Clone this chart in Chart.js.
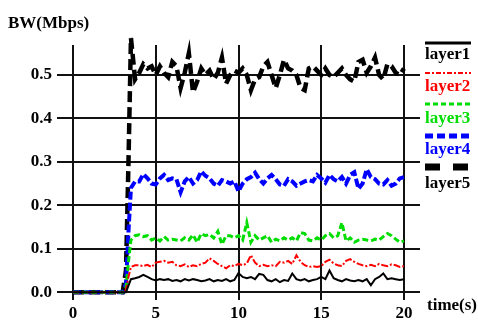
<!DOCTYPE html>
<html>
<head>
<meta charset="utf-8">
<script src="https://cdn.jsdelivr.net/npm/chart.js@4.4.1/dist/chart.umd.min.js"></script>
<style>
html, body { margin: 0; padding: 0; background: #fff; }
#wrap { width: 478px; height: 320px; }
</style>
</head>
<body>
<div id="wrap"><canvas id="bwChart" width="478" height="320"></canvas></div>
<script>
// data
const seriesNames = ['layer1', 'layer2', 'layer3', 'layer4', 'layer5'];
const xTicks = [0, 5, 10, 15, 20];
const yTicks = [0, 0.1, 0.2, 0.3, 0.4, 0.5];

const times = [0, 1, 2, 3, 3.2, 3.35, 3.5, 3.75,
    4.0, 4.25, 4.5, 4.75, 5.0, 5.25, 5.5, 5.75, 6.0, 6.25, 6.5, 6.75,
    7.0, 7.25, 7.5, 7.75, 8.0, 8.25, 8.5, 8.75, 9.0, 9.25, 9.5, 9.75,
    10.0, 10.25, 10.5, 10.75, 11.0, 11.25, 11.5, 11.75, 12.0, 12.25, 12.5, 12.75,
    13.0, 13.25, 13.5, 13.75, 14.0, 14.25, 14.5, 14.75, 15.0, 15.25, 15.5, 15.75,
    16.0, 16.25, 16.5, 16.75, 17.0, 17.25, 17.5, 17.75, 18.0, 18.25, 18.5, 18.75,
    19.0, 19.25, 19.5, 19.75, 20.0];

const layer1 = [0, 0, 0, 0, 0.0, 0.015, 0.03, 0.032,
    0.035, 0.04, 0.035, 0.03, 0.027, 0.03, 0.028, 0.03, 0.026, 0.028, 0.025, 0.03,
    0.027, 0.03, 0.028, 0.025, 0.027, 0.03, 0.025, 0.028, 0.026, 0.03, 0.025, 0.028,
    0.044, 0.035, 0.032, 0.035, 0.03, 0.042, 0.04, 0.028, 0.025, 0.03, 0.023, 0.028,
    0.026, 0.043, 0.03, 0.027, 0.03, 0.025, 0.028, 0.03, 0.035, 0.03, 0.05, 0.032,
    0.028, 0.025, 0.03, 0.027, 0.025, 0.028, 0.025, 0.03, 0.016, 0.03, 0.035, 0.043,
    0.03, 0.032, 0.03, 0.028, 0.03];
const layer2 = [0, 0, 0, 0, 0.005, 0.035, 0.058, 0.062,
    0.062, 0.06, 0.063, 0.058, 0.068, 0.07, 0.072, 0.068, 0.07, 0.062, 0.06, 0.064,
    0.058, 0.062, 0.06, 0.065, 0.068, 0.078, 0.072, 0.065, 0.06, 0.055, 0.062, 0.06,
    0.065, 0.062, 0.066, 0.085, 0.068, 0.06, 0.063, 0.06, 0.062, 0.06, 0.07, 0.068,
    0.072, 0.065, 0.085, 0.07, 0.062, 0.058, 0.06, 0.058, 0.06, 0.07, 0.075, 0.066,
    0.062, 0.06, 0.072, 0.076, 0.07, 0.065, 0.062, 0.06, 0.063, 0.06, 0.065, 0.062,
    0.06, 0.064, 0.062, 0.058, 0.06];
const layer3 = [0, 0, 0, 0, 0.01, 0.07, 0.12, 0.13,
    0.132, 0.128, 0.13, 0.12, 0.125, 0.118, 0.128, 0.12, 0.122, 0.12, 0.118, 0.125,
    0.12, 0.132, 0.115, 0.135, 0.13, 0.133, 0.125, 0.14, 0.11, 0.13, 0.13, 0.125,
    0.13, 0.12, 0.16, 0.115, 0.13, 0.12, 0.125, 0.13, 0.115, 0.122, 0.118, 0.125,
    0.12, 0.125, 0.118, 0.137, 0.135, 0.12, 0.118, 0.125, 0.12, 0.13, 0.135, 0.125,
    0.13, 0.16, 0.118, 0.125, 0.115, 0.12, 0.122, 0.12, 0.118, 0.122, 0.12, 0.128,
    0.135, 0.13, 0.122, 0.115, 0.118];
const layer4 = [0, 0, 0, 0, 0.02, 0.14, 0.24, 0.255,
    0.255, 0.272, 0.262, 0.25, 0.248, 0.262, 0.27, 0.258, 0.262, 0.26, 0.23, 0.255,
    0.265, 0.25, 0.258, 0.278, 0.268, 0.262, 0.25, 0.245, 0.258, 0.255, 0.25, 0.255,
    0.232, 0.25, 0.26, 0.265, 0.275, 0.26, 0.25, 0.262, 0.27, 0.26, 0.248, 0.245,
    0.26, 0.255, 0.245, 0.25, 0.255, 0.258, 0.255, 0.27, 0.262, 0.252, 0.27, 0.26,
    0.255, 0.265, 0.25, 0.27, 0.276, 0.238, 0.25, 0.283, 0.265, 0.26, 0.25, 0.248,
    0.258, 0.245, 0.25, 0.262, 0.265];
const layer5 = [0, 0, 0, 0, 0.05, 0.3, 0.585, 0.49,
    0.505, 0.525, 0.515, 0.52, 0.5, 0.52, 0.505, 0.495, 0.53, 0.52, 0.47, 0.505,
    0.55, 0.46, 0.485, 0.515, 0.5, 0.51, 0.49, 0.505, 0.54, 0.48, 0.5, 0.51,
    0.505, 0.515, 0.5, 0.465, 0.49, 0.495, 0.52, 0.53, 0.5, 0.47, 0.5, 0.535,
    0.515, 0.51, 0.5, 0.47, 0.465, 0.515, 0.52, 0.51, 0.5, 0.515, 0.5, 0.495,
    0.505, 0.515, 0.5, 0.49, 0.485, 0.53, 0.535, 0.505, 0.52, 0.54, 0.5, 0.49,
    0.525, 0.52, 0.505, 0.5, 0.515];

const FONT = "'Liberation Serif', 'Times New Roman', serif";

function toPoints(values) {
    return values.map((v, i) => ({ x: times[i], y: v }));
}

// estilos de cada capa
const styles = [
    { color: '#000000', width: 2, dash: [], legendWidth: 3, legendDash: [] },
    { color: '#ff0000', width: 2, dash: [7, 2, 2, 2], legendWidth: 2, legendDash: [5, 2, 2, 2] },
    { color: '#00dd00', width: 3, dash: [6, 3], legendWidth: 3, legendDash: [5, 3] },
    { color: '#0000ff', width: 4, dash: [8, 3], legendWidth: 5, legendDash: [8, 4] },
    { color: '#000000', width: 4.5, dash: [11, 5], legendWidth: 7, legendDash: [15, 13] }
];
const allValues = [layer1, layer2, layer3, layer4, layer5];

// leyenda y títulos dibujados a mano
const extraText = {
    id: 'extraText',
    afterDraw(chart) {
        const c = chart.ctx;
        c.save();
        c.font = 'bold 17px ' + FONT;
        c.fillStyle = '#000';
        c.textBaseline = 'alphabetic';
        c.textAlign = 'left';
        c.fillText('BW(Mbps)', 8, 28);
        c.fillText('time(s)', 427, 310);

        const lineY = [43, 73, 104, 136, 167];
        const textY = [59, 91, 123, 154, 188];
        seriesNames.forEach((name, i) => {
            const s = styles[i];
            c.strokeStyle = s.color;
            c.lineWidth = s.legendWidth;
            c.setLineDash(s.legendDash);
            c.beginPath();
            c.moveTo(425, lineY[i]);
            c.lineTo(471, lineY[i]);
            c.stroke();
            c.setLineDash([]);
            c.fillStyle = s.color;
            c.fillText(name, 425, textY[i]);
        });
        c.restore();
    }
};

const ctx = document.getElementById('bwChart').getContext('2d');
const bwChart = new Chart(ctx, {
    type: 'line',
    data: {
        datasets: allValues.map((vals, i) => ({
            label: seriesNames[i],
            data: toPoints(vals),
            borderColor: styles[i].color,
            borderWidth: styles[i].width,
            borderDash: styles[i].dash,
            pointRadius: 0,
            tension: 0,
            fill: false,
            clip: false
        }))
    },
    options: {
        responsive: false,
        animation: false,
        devicePixelRatio: 1,
        layout: { padding: { top: 45, right: 58, left: 0, bottom: 0 } },
        plugins: {
            legend: { display: false },
            tooltip: { enabled: false }
        },
        scales: {
            x: {
                type: 'linear',
                min: -0.97,
                max: 20.97,
                afterBuildTicks: (scale) => { scale.ticks = xTicks.map(v => ({ value: v })); },
                afterFit: (scale) => { scale.height = 20; },
                grid: { color: '#111', lineWidth: 2, drawTicks: false },
                border: { display: false },
                ticks: {
                    color: '#000',
                    padding: 3,
                    maxRotation: 0,
                    font: { family: FONT, size: 17, weight: 'bold' },
                    callback: (v) => String(v)
                }
            },
            y: {
                min: -0.018,
                max: 0.569,
                afterBuildTicks: (scale) => { scale.ticks = yTicks.map(v => ({ value: v })); },
                afterFit: (scale) => { scale.width = 57; },
                grid: { color: '#111', lineWidth: 2, drawTicks: false },
                border: { display: false },
                ticks: {
                    color: '#000',
                    padding: 5,
                    font: { family: FONT, size: 17, weight: 'bold' },
                    callback: (v) => Number(v).toFixed(1)
                }
            }
        }
    },
    plugins: [extraText]
});
</script>
</body>
</html>
